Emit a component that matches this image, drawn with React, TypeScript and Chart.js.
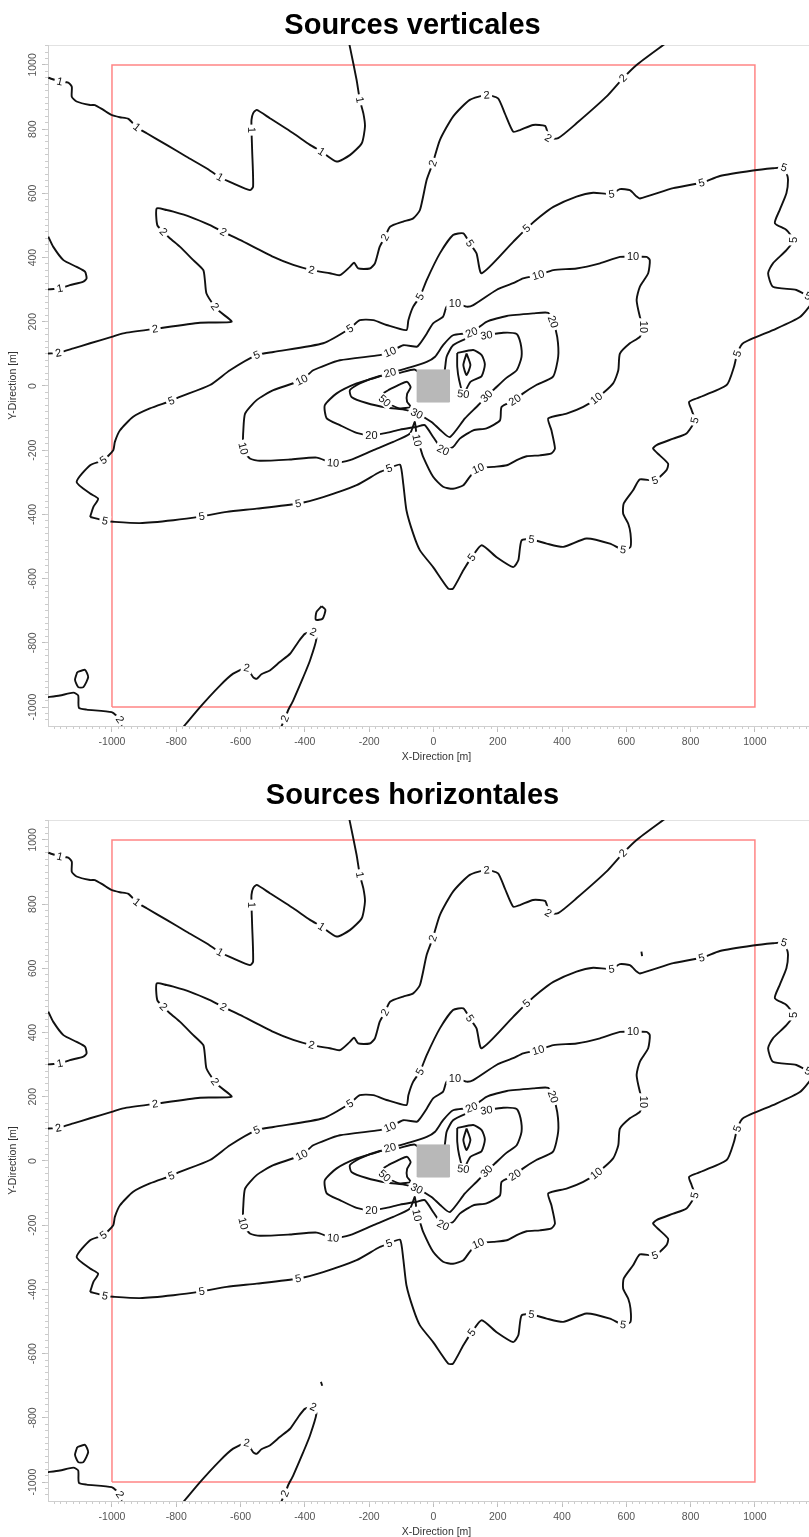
import React, { useEffect, useRef } from 'react';
import { Chart, registerables } from 'chart.js';

Chart.register(...registerables);

// ---- axis ranges (data units, metres) ----
const X_MIN = -1199;
const X_MAX = 1218;
const Y_MIN = -1059;
const Y_MAX = 1062;
const MINOR_STEP = 20;

const titles = ['Sources verticales', 'Sources horizontales'];
const xTitle = 'X-Direction [m]';
const yTitle = 'Y-Direction [m]';
const xTickValues = [-1000, -800, -600, -400, -200, 0, 200, 400, 600, 800, 1000];
const yTickValues = [-1000, -800, -600, -400, -200, 0, 200, 400, 600, 800, 1000];

// ---- contour polylines: [x, y, labelFlag] ----
const level1Upper = [
  [-1198, 960], [-1162, 948, 1], [-1136, 945], [-1125, 932], [-1125, 901], [-1110, 886], [-1068, 875], [-1053, 875],
  [-1027, 860], [-1001, 844], [-975, 837], [-949, 832], [-923, 806, 1], [-892, 787], [-830, 751], [-768, 714],
  [-706, 678], [-664, 650, 1], [-623, 631], [-571, 610], [-561, 621], [-564, 735], [-566, 797, 1], [-566, 829],
  [-561, 849], [-550, 860], [-509, 834], [-436, 787], [-384, 751], [-348, 730, 1], [-301, 699], [-260, 719],
  [-223, 756], [-213, 808], [-218, 849], [-229, 891, 1], [-239, 953], [-260, 1057], [-265, 1080],
];
const level1Left = [
  [-1198, 465], [-1183, 434], [-1151, 392], [-1110, 371], [-1084, 356], [-1079, 335], [-1089, 325], [-1131, 314],
  [-1162, 304, 1], [-1198, 301], [-1215, 300],
];
const level2Main = [
  [-1215, 98], [-1198, 101], [-1167, 103, 1], [-1120, 117], [-1068, 133], [-1001, 153], [-965, 164], [-866, 178, 1],
  [-726, 197], [-628, 200], [-664, 231], [-680, 247, 1], [-706, 288], [-711, 330], [-716, 361], [-747, 392],
  [-789, 434], [-820, 460], [-840, 480, 1], [-859, 501], [-861, 553], [-830, 548], [-809, 543], [-757, 527],
  [-695, 501], [-654, 480, 1], [-602, 455], [-498, 402], [-436, 377], [-379, 361, 1], [-322, 351], [-291, 345],
  [-260, 371], [-247, 384], [-234, 366], [-198, 366], [-182, 382], [-167, 434], [-151, 463, 1], [-135, 496],
  [-94, 512], [-63, 522], [-42, 548], [-21, 642], [-2, 694, 1], [20, 766], [61, 839], [113, 891], [165, 906, 1],
  [201, 896], [222, 849], [248, 792], [269, 797], [310, 813], [347, 810], [354, 792], [357, 772, 1], [388, 772],
  [445, 818], [538, 901], [590, 959, 1], [632, 1000], [715, 1062], [740, 1080],
];
const level2BottomV = [
  [-778, -1062], [-726, -1000], [-664, -933], [-623, -896], [-581, -878, 1], [-561, -907], [-550, -912], [-535, -898],
  [-509, -886], [-478, -860], [-446, -834], [-421, -798], [-400, -772], [-374, -766, 1], [-364, -787], [-384, -855],
  [-405, -907], [-436, -979], [-452, -1010], [-462, -1036, 1], [-476, -1067],
];
const level2BottomLeft = [
  [-1215, -971], [-1198, -969], [-1162, -964], [-1120, -955], [-1105, -964], [-1103, -1002], [-1079, -1008],
  [-1001, -1016], [-975, -1039, 1], [-970, -1062],
];
const level2LoopLeft = [
  [-1108, -891], [-1084, -884], [-1074, -907], [-1089, -938], [-1105, -938], [-1115, -915], [-1108, -891],
];
const level2BlobV = [[-348, -686], [-336, -697], [-345, -725], [-366, -728], [-364, -704], [-348, -686]];
const level2DotH = [[-350, -688], [-346, -700]];
const level5DashH = [[647, 652], [649, 638]];
const level5 = [
  [-1068, -408], [-1022, -420, 1], [-996, -423], [-913, -427], [-809, -418], [-721, -406, 1], [-643, -392], [-550, -382],
  [-421, -366, 1], [-343, -346], [-239, -309], [-167, -268], [-138, -257, 1], [-104, -245], [-94, -304], [-84, -387],
  [-63, -460], [-42, -512], [-1, -564], [46, -631], [61, -631], [93, -574], [119, -534, 1], [150, -496], [196, -533],
  [248, -564], [264, -543], [274, -481], [305, -478, 1], [352, -491], [404, -501], [476, -475], [549, -491],
  [590, -510, 1], [613, -501], [613, -460], [606, -429], [590, -397], [592, -366], [621, -325], [642, -291],
  [689, -294, 1], [725, -262], [730, -242], [704, -216], [683, -195], [694, -184], [746, -164], [787, -148],
  [813, -107, 1], [803, -75], [795, -50], [818, -39], [912, 3], [935, 60], [945, 101, 1], [963, 133], [1056, 174],
  [1140, 215], [1176, 257], [1180, 275], [1165, 280, 1], [1129, 299], [1056, 309], [1041, 351], [1056, 382],
  [1098, 423], [1119, 455, 1], [1098, 486], [1062, 507], [1077, 548], [1098, 600], [1103, 642], [1098, 665],
  [1090, 680, 1], [1056, 678], [994, 671], [891, 654], [834, 633, 1], [746, 616], [642, 584], [632, 590], [611, 610],
  [580, 613], [554, 598, 1], [497, 602], [445, 590], [373, 558], [331, 527], [290, 491, 1], [248, 449], [150, 351],
  [134, 413], [113, 444, 1], [93, 475], [61, 470], [20, 413], [-21, 330], [-42, 278, 1], [-63, 247], [-78, 205],
  [-84, 174], [-146, 190], [-187, 205], [-229, 205], [-260, 179, 1], [-343, 133], [-498, 106], [-550, 96, 1],
  [-633, 49], [-695, 3], [-789, -34], [-815, -46, 1], [-882, -70], [-934, -96], [-975, -138], [-991, -174],
  [-996, -200], [-1027, -231, 1], [-1068, -247], [-1110, -299], [-1068, -335], [-1043, -351], [-1058, -377],
  [-1068, -408],
];
const level10 = [
  [-592, -148], [-586, -86], [-550, -44], [-498, -13], [-410, 18, 1], [-374, 49], [-291, 80], [-167, 96],
  [-135, 106, 1], [-94, 127], [-52, 122], [-42, 132], [-21, 163], [-1, 195], [30, 216], [41, 247], [67, 257, 1],
  [103, 247], [124, 252], [196, 299], [248, 320], [279, 335], [326, 345, 1], [373, 361], [445, 366], [518, 382],
  [580, 402], [621, 402, 1], [663, 402], [673, 392], [668, 351], [642, 309], [632, 268], [642, 216], [652, 184, 1],
  [642, 153], [611, 133], [580, 101], [575, 49], [559, 8], [507, -39, 1], [466, -65], [414, -86], [357, -101],
  [367, -138], [378, -195], [367, -210], [331, -216], [290, -219], [259, -231], [228, -247], [186, -252],
  [139, -257, 1], [113, -283], [93, -309], [61, -320], [30, -314], [-1, -283], [-32, -221], [-42, -190],
  [-51, -169, 1], [-58, -112], [-73, -148], [-125, -174], [-187, -200], [-260, -231], [-312, -240, 1], [-363, -223],
  [-446, -229], [-540, -233], [-571, -226], [-592, -195, 1], [-592, -148],
];
const level20 = [
  [-135, 41, 1], [-73, 58], [-21, 75], [5, 91], [30, 127], [61, 158], [119, 167, 1], [165, 200], [228, 218],
  [310, 226], [357, 228], [372, 200, 1], [385, 153], [388, 91], [372, 29], [320, 3], [279, -23], [253, -44, 1],
  [212, -65], [207, -107], [165, -132], [124, -138], [82, -164], [61, -190], [30, -200, 1], [-1, -159], [-27, -122],
  [-52, -127], [-104, -136], [-146, -146], [-193, -153, 1], [-239, -146], [-291, -122], [-332, -101], [-338, -60],
  [-301, -23], [-239, 8], [-177, 27], [-135, 41],
];
const level30 = [
  [165, 158, 1], [217, 166], [259, 162], [271, 133], [274, 91], [259, 49], [228, 26], [191, -8], [165, -32, 1],
  [139, -60], [98, -101], [51, -159], [20, -136], [-6, -112], [-52, -86, 1], [-84, -75], [-146, -67], [-208, -53],
  [-255, -34], [-260, -13], [-229, 8], [-167, 31], [-104, 41], [-58, 51], [-20, 20], [30, 30], [41, 91], [61, 127],
  [103, 148], [144, 163], [165, 158],
];
const level50Left = [
  [-141, -13], [-104, 5], [-82, 13], [-71, -4], [-82, -25], [-82, -49], [-71, -65], [-104, -70], [-130, -60],
  [-152, -46, 1], [-165, -30], [-141, -13],
];
const level50Right = [
  [74, 103], [124, 112], [150, 96], [160, 68], [150, 31], [115, 13], [93, -25, 1], [80, 18], [74, 60], [74, 103],
];
const innerCore = [[103, 101], [115, 65], [103, 34], [93, 65], [103, 101]];

const studyArea = [[-1000, -1000], [1000, -1000], [1000, 1000], [-1000, 1000], [-1000, -1000]];
const sourceBlock = [[-50, -50], [50, -50], [50, 50], [-50, 50], [-50, -50]];

const commonContours: [number[][], string][] = [
  [level1Upper, '1'], [level1Left, '1'], [level2Main, '2'], [level2BottomV, '2'], [level2BottomLeft, '2'],
  [level2LoopLeft, '2'], [level5, '5'], [level10, '10'], [level20, '20'], [level30, '30'],
  [level50Left, '50'], [level50Right, '50'], [innerCore, ''],
];
const verticalExtra: [number[][], string][] = [[level2BlobV, '2']];
const horizontalExtra: [number[][], string][] = [[level2DotH, '2'], [level5DashH, '5']];

const FONT = '"Liberation Sans", Arial, Helvetica, sans-serif';
Chart.defaults.font.family = FONT;

function contourDataset(pts: number[][], text: string) {
  return {
    data: pts.map((p) => ({ x: p[0], y: p[1] })),
    labelIdx: pts.map((p, i) => (p[2] ? i : -1)).filter((i) => i >= 0),
    labelText: text,
    showLine: true,
    borderColor: '#111',
    borderWidth: 1.9,
    pointRadius: 0,
    pointHoverRadius: 0,
    tension: 0.2,
    fill: false,
    order: 2,
  };
}

const contourLabelPlugin = {
  id: 'contourLabels',
  afterDatasetsDraw(chart: any) {
    const { ctx, chartArea } = chart;
    ctx.save();
    ctx.beginPath();
    ctx.rect(chartArea.left, chartArea.top, chartArea.right - chartArea.left, chartArea.bottom - chartArea.top);
    ctx.clip();
    ctx.font = '11px ' + FONT;
    ctx.textAlign = 'center';
    ctx.textBaseline = 'middle';
    chart.data.datasets.forEach((ds: any, di: number) => {
      const idxs: number[] = ds.labelIdx;
      if (!idxs || !idxs.length || !ds.labelText) return;
      const pts = chart.getDatasetMeta(di).data;
      idxs.forEach((i) => {
        const p = pts[i];
        const a = pts[Math.max(0, i - 1)];
        const b = pts[Math.min(pts.length - 1, i + 1)];
        let ang = Math.atan2(b.y - a.y, b.x - a.x);
        if (ang > Math.PI / 2) ang -= Math.PI;
        if (ang < -Math.PI / 2) ang += Math.PI;
        ctx.save();
        ctx.translate(p.x, p.y);
        ctx.rotate(ang);
        const w = ctx.measureText(ds.labelText).width;
        ctx.fillStyle = '#ffffff';
        ctx.fillRect(-w / 2 - 2.5, -5.5, w + 5, 11);
        ctx.fillStyle = '#111';
        ctx.fillText(ds.labelText, 0, 0.5);
        ctx.restore();
      });
    });
    ctx.restore();
  },
};

function setTicks(values: number[]) {
  return (s: any) => { s.ticks = values.map((v) => ({ value: v })); };
}
function setMinorTicks(min: number, max: number) {
  return (s: any) => {
    const out: { value: number }[] = [];
    for (let v = Math.ceil(min / MINOR_STEP) * MINOR_STEP; v <= max; v += MINOR_STEP) out.push({ value: v });
    s.ticks = out;
  };
}

function ContourChart({ title, extra, titlePad }: { title: string; extra: [number[][], string][]; titlePad: [number, number] }) {
  const ref = useRef<HTMLCanvasElement>(null);
  useEffect(() => {
    const datasets: any[] = [
      {
        data: sourceBlock.map((p) => ({ x: p[0], y: p[1] })),
        showLine: true,
        borderColor: '#b8b8b8',
        backgroundColor: '#b8b8b8',
        borderWidth: 1,
        pointRadius: 0,
        fill: 'shape',
        order: 0,
      },
      ...[...commonContours, ...extra].map(([pts, t]) => contourDataset(pts, t)),
      {
        data: studyArea.map((p) => ({ x: p[0], y: p[1] })),
        showLine: true,
        borderColor: 'rgba(255,120,120,0.9)',
        borderWidth: 1.5,
        pointRadius: 0,
        fill: false,
        order: 5,
      },
    ];
    const gridMajor = { drawOnChartArea: false, drawTicks: true, tickLength: 6, color: '#bdbdbd' };
    const gridMinor = { drawOnChartArea: false, drawTicks: true, tickLength: 3, color: '#cccccc' };
    const chart = new Chart(ref.current as HTMLCanvasElement, {
      type: 'scatter',
      data: { datasets },
      plugins: [contourLabelPlugin],
      options: {
        animation: false,
        responsive: false,
        devicePixelRatio: 1,
        events: [],
        layout: { padding: 0 },
        plugins: {
          legend: { display: false },
          tooltip: { enabled: false },
          title: {
            display: true,
            text: title,
            color: '#000',
            font: { size: 29, weight: 'bold', family: FONT },
            padding: { top: titlePad[0], bottom: titlePad[1] },
          },
        },
        scales: {
          x: {
            type: 'linear',
            position: 'bottom',
            weight: 1,
            min: X_MIN,
            max: X_MAX,
            afterBuildTicks: setTicks(xTickValues),
            afterFit: (s: any) => { s.height = 49; },
            border: { color: '#cfcfcf' },
            grid: gridMajor,
            ticks: {
              autoSkip: false, maxRotation: 0, minRotation: 0,
              padding: 4, color: '#555', font: { size: 10.5 }, callback: (v: any) => String(v),
            },
            title: { display: true, text: xTitle, color: '#333', font: { size: 10.5 }, padding: { top: 0, bottom: 11.7 } },
          },
          xMinor: {
            type: 'linear',
            position: 'bottom',
            weight: 0,
            min: X_MIN,
            max: X_MAX,
            afterBuildTicks: setMinorTicks(X_MIN, X_MAX),
            afterFit: (s: any) => { s.height = 0; },
            border: { display: false },
            grid: gridMinor,
            ticks: { display: false },
          },
          xTop: {
            type: 'linear',
            position: 'top',
            min: X_MIN,
            max: X_MAX,
            afterFit: (s: any) => { s.height = 0; },
            border: { color: '#e2e2e2' },
            grid: { drawOnChartArea: false, drawTicks: false },
            ticks: { display: false },
          },
          y: {
            type: 'linear',
            position: 'left',
            weight: 1,
            min: Y_MIN,
            max: Y_MAX,
            afterBuildTicks: setTicks(yTickValues),
            afterFit: (s: any) => { s.width = 48; },
            border: { color: '#cfcfcf' },
            grid: gridMajor,
            ticks: {
              autoSkip: false, minRotation: 90, maxRotation: 90,
              crossAlign: 'center', padding: -4.4, color: '#555', font: { size: 10.5 }, callback: (v: any) => String(v),
            },
            title: { display: true, text: yTitle, color: '#333', font: { size: 10.5 }, padding: { top: 6.7, bottom: 0 } },
          },
          yMinor: {
            type: 'linear',
            position: 'left',
            weight: 0,
            min: Y_MIN,
            max: Y_MAX,
            afterBuildTicks: setMinorTicks(Y_MIN, Y_MAX),
            afterFit: (s: any) => { s.width = 0; },
            border: { display: false },
            grid: gridMinor,
            ticks: { display: false },
          },
        },
      } as any,
    });
    return () => chart.destroy();
  }, [title]);
  return <canvas ref={ref} width={825} height={775} style={{ display: 'block', width: 825, height: 775 }} />;
}

export default function App() {
  return (
    <div style={{ position: 'absolute', left: 0, top: 0, width: 809, height: 1537, overflow: 'hidden', background: '#fff' }}>
      <ContourChart title={titles[0]} extra={verticalExtra} titlePad={[8.5, 1.7]} />
      <ContourChart title={titles[1]} extra={horizontalExtra} titlePad={[3.5, 6.7]} />
    </div>
  );
}
